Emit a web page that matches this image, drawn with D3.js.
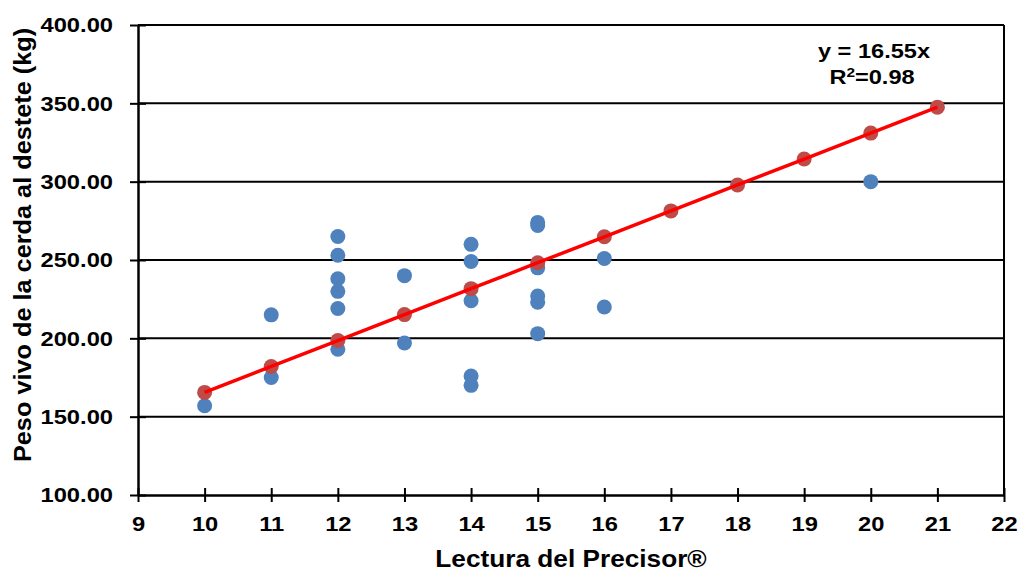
<!DOCTYPE html>
<html>
<head>
<meta charset="utf-8">
<script src="https://cdn.jsdelivr.net/npm/d3@7"></script>
<style>
  body { margin: 0; background: #fff; }
  text { font-family: "Liberation Sans", Arial, sans-serif; font-weight: bold; fill: #000; }
</style>
</head>
<body>
<div id="container"></div>
<script>
const width = 1021,
  height = 571,
  margin = { top: 25, right: 17, bottom: 76, left: 138 };

// observed readings (blue)
const obsX = [10, 11, 11, 12, 12, 12, 12, 12, 12, 13, 13, 14, 14, 14, 14, 14, 15, 15, 15, 15, 15, 15, 16, 16, 20];
const obsY = [157, 215, 175, 265, 253, 238, 230, 219, 193, 240, 197, 260, 249, 224, 176, 170, 274, 272, 245, 227, 223, 203, 251, 220, 300];

// fitted values (red), y = 16.55x
const fitX = [10, 11, 12, 13, 14, 15, 16, 17, 18, 19, 20, 21];
const fitY = [165.5, 182.05, 198.6, 215.15, 231.7, 248.25, 264.8, 281.35, 297.9, 314.45, 331, 347.55];

const xTicks = [9, 10, 11, 12, 13, 14, 15, 16, 17, 18, 19, 20, 21, 22];
const yTicks = [100, 150, 200, 250, 300, 350, 400];

// glyphs in the original are a bit wider than Arial
const sx = 1.13;

const svg = d3.select("#container").append("svg")
  .attr("width", width)
  .attr("height", height)

/* SCALES */
const xScale = d3.scaleLinear()
  .domain([9, 22])
  .range([margin.left, width - margin.right])

const yScale = d3.scaleLinear()
  .domain([100, 400])
  .range([height - margin.bottom, margin.top])

// gridlines
svg.append("g")
  .selectAll("line")
  .data(yTicks.slice(1))
  .join("line")
  .attr("x1", xScale(9))
  .attr("x2", xScale(22))
  .attr("y1", d => yScale(d))
  .attr("y2", d => yScale(d))
  .attr("stroke", "#000")
  .attr("stroke-width", 2)

// right border
svg.append("line")
  .attr("x1", xScale(22)).attr("x2", xScale(22))
  .attr("y1", yScale(100)).attr("y2", yScale(400))
  .attr("stroke", "#000")
  .attr("stroke-width", 2)

/* Axes */
const xAxis = d3.axisBottom(xScale)
  .tickValues(xTicks)
  .tickFormat(d3.format("d"))
  .tickSizeInner(7)
  .tickSizeOuter(0)
  .tickPadding(14)

const yAxis = d3.axisLeft(yScale)
  .tickValues(yTicks)
  .tickFormat(d3.format(".2f"))
  .tickSizeInner(8)
  .tickSizeOuter(0)
  .tickPadding(17)

const gx = svg.append("g")
  .attr("transform", `translate(0, ${yScale(100)})`)
  .call(xAxis)
gx.selectAll(".tick line").attr("y1", -7).attr("stroke-width", 2)
gx.select(".domain").attr("stroke-width", 2.5)
gx.selectAll("text")
  .style("font-size", "21px")
  .attr("font-family", null)
  .attr("transform", `scale(${sx},1)`)

const gy = svg.append("g")
  .attr("transform", `translate(${xScale(9)}, 0)`)
  .call(yAxis)
gy.selectAll(".tick line").attr("x1", 8).attr("stroke-width", 2)
gy.select(".domain").attr("stroke-width", 2.5)
gy.selectAll("text")
  .style("font-size", "21px")
  .attr("font-family", null)
  .attr("x", -25 / sx)
  .attr("transform", `scale(${sx},1)`)

// observed points
svg.append("g")
  .selectAll("circle")
  .data(obsX.map((x, i) => ({ x: x, y: obsY[i] })))
  .join("circle")
  .attr("cx", d => xScale(d.x))
  .attr("cy", d => yScale(d.y))
  .attr("r", 7.5)
  .attr("fill", "#4f81bd")

// fitted points
svg.append("g")
  .selectAll("circle")
  .data(fitX.map((x, i) => ({ x: x, y: fitY[i] })))
  .join("circle")
  .attr("cx", d => xScale(d.x))
  .attr("cy", d => yScale(d.y))
  .attr("r", 7.5)
  .attr("fill", "#be4b48")

// trend line
const line = d3.line()
  .x(d => xScale(d))
  .y((d, i) => yScale(fitY[i]))

svg.append("path")
  .datum(fitX)
  .attr("d", line)
  .attr("fill", "none")
  .attr("stroke", "#ff0000")
  .attr("stroke-width", 3.5)

// equation
svg.append("text")
  .attr("text-anchor", "middle")
  .attr("transform", `translate(874,58) scale(1.18,1)`)
  .style("font-size", "20px")
  .text("y = 16.55x")

const r2 = svg.append("text")
  .attr("text-anchor", "middle")
  .attr("transform", `translate(872,84) scale(1.18,1)`)
  .style("font-size", "20px")
r2.append("tspan").text("R")
r2.append("tspan").attr("baseline-shift", "super").style("font-size", "13px").text("2")
r2.append("tspan").text("=0.98")

// axis titles
svg.append("text")
  .attr("text-anchor", "middle")
  .attr("transform", `translate(${(xScale(9) + xScale(22)) / 2},567) scale(1.14,1)`)
  .style("font-size", "23px")
  .text("Lectura del Precisor®")

svg.append("text")
  .attr("text-anchor", "middle")
  .attr("transform", "translate(31,245) rotate(-90) scale(1.1,1)")
  .style("font-size", "23px")
  .text("Peso vivo de la cerda al destete (kg)")
</script>
</body>
</html>
